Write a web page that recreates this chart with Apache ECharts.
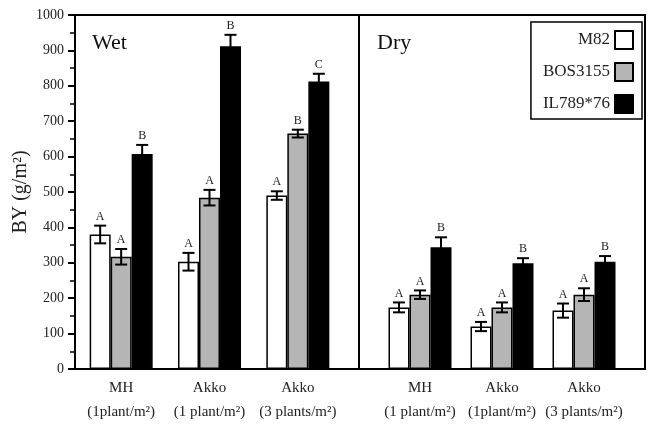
<!DOCTYPE html>
<html>
<head>
<meta charset="utf-8">
<script src="https://cdn.jsdelivr.net/npm/echarts@6/dist/echarts.min.js"></script>
<style>
  html, body { margin: 0; padding: 0; background: #fff; }
  #chart { width: 654px; height: 428px; }
</style>
</head>
<body>
<div id="chart"></div>
<script>
// categories
const wetGroups = ['MH\n(1plant/m²)', 'Akko\n(1 plant/m²)', 'Akko\n(3 plants/m²)'];
const dryGroups = ['MH\n(1 plant/m²)', 'Akko\n(1plant/m²)', 'Akko\n(3 plants/m²)'];
const seriesNames = ['M82', 'BOS3155', 'IL789*76'];
const yTicks = [0, 100, 200, 300, 400, 500, 600, 700, 800, 900, 1000];

// wet
const wetM82 = [380, 303, 490];
const wetBOS = [317, 484, 665];
const wetIL = [607, 912, 812];
const wetM82Err = [25, 25, 12];
const wetBOSErr = [22, 22, 11];
const wetILErr = [26, 32, 22];
const wetM82Let = ['A', 'A', 'A'];
const wetBOSLet = ['A', 'A', 'B'];
const wetILLet = ['B', 'B', 'C'];

// dry
const dryM82 = [174, 120, 165];
const dryBOS = [210, 174, 210];
const dryIL = [344, 299, 303];
const dryM82Err = [14, 13, 20];
const dryBOSErr = [12, 14, 18];
const dryILErr = [28, 14, 16];
const dryM82Let = ['A', 'A', 'A'];
const dryBOSLet = ['A', 'A', 'A'];
const dryILLet = ['B', 'B', 'B'];

const colors = ['#ffffff', '#b5b5b5', '#000000'];
const barW = 21;
const serif = '"Liberation Serif", "DejaVu Serif", serif';

let myChart = echarts.init(document.getElementById('chart'));

function bars(vals, errs, lets, xi) {
  const out = [];
  vals.forEach(function (v, k) {
    out.push({
      name: seriesNames[k],
      type: 'bar',
      xAxisIndex: xi,
      yAxisIndex: xi,
      barWidth: barW,
      barGap: '0%',
      itemStyle: {color: colors[k], borderColor: '#000', borderWidth: 1.5},
      data: v,
      z: 2
    });
  });
  // error bars + letters
  const rows = [];
  const letters = [];
  vals.forEach(function (v, k) {
    v.forEach(function (m, i) {
      rows.push([i, m, errs[k][i], k]);
      letters.push(lets[k][i]);
    });
  });
  out.push({
    type: 'custom',
    xAxisIndex: xi,
    yAxisIndex: xi,
    z: 5,
    silent: true,
    renderItem: function (params, api) {
      const k = api.value(3);
      const c = api.coord([api.value(0), api.value(1)]);
      const x = c[0] + (k - 1) * barW;
      const top = api.coord([api.value(0), api.value(1) + api.value(2)])[1];
      const bot = api.coord([api.value(0), api.value(1) - api.value(2)])[1];
      const st = {stroke: '#000', lineWidth: 2};
      return {
        type: 'group',
        children: [
          {type: 'line', shape: {x1: x, y1: top, x2: x, y2: bot}, style: st},
          {type: 'line', shape: {x1: x - 6, y1: top, x2: x + 6, y2: top}, style: st},
          {type: 'line', shape: {x1: x - 6, y1: bot, x2: x + 6, y2: bot}, style: st},
          {type: 'text', x: x, y: top - 3, style: {
            text: letters[params.dataIndex], fill: '#222', font: '12px ' + serif,
            align: 'center', verticalAlign: 'bottom'}}
        ]
      };
    },
    data: rows
  });
  return out;
}

const hiddenX = {type: 'category', show: false, data: ['a']};
const hiddenY = {type: 'value', show: false, min: 0, max: 1000};
const labelX = function (g, gi) {
  return {
    type: 'category', gridIndex: gi, data: g,
    axisLine: {show: false}, axisTick: {show: false},
    axisLabel: {interval: 0, color: '#222', fontFamily: serif, fontSize: 15, margin: 7, lineHeight: 24}
  };
};

option = {
  backgroundColor: '#fff',
  animation: false,
  grid: [
    {left: 75, top: 15, width: 284, height: 354, show: true, borderColor: '#000', borderWidth: 2, backgroundColor: 'transparent'},
    {left: 359, top: 15, width: 286, height: 354, show: true, borderColor: '#000', borderWidth: 2, backgroundColor: 'transparent'},
    {left: 77, top: 15, width: 265, height: 354},
    {left: 379, top: 15, width: 246, height: 354}
  ],
  xAxis: [
    Object.assign({gridIndex: 0}, hiddenX),
    Object.assign({gridIndex: 1}, hiddenX),
    labelX(wetGroups, 2),
    labelX(dryGroups, 3)
  ],
  yAxis: [
    {
      type: 'value', gridIndex: 0, min: 0, max: 1000, interval: 100,
      name: 'BY (g/m²)', nameLocation: 'middle', nameGap: 44,
      nameTextStyle: {fontFamily: serif, fontSize: 20, color: '#222'},
      axisLine: {show: true, lineStyle: {color: '#000', width: 2}},
      axisTick: {show: true, length: 7, lineStyle: {color: '#000', width: 2}},
      minorTick: {show: true, splitNumber: 2, length: 5, lineStyle: {color: '#000', width: 1.5}},
      splitLine: {show: false},
      axisLabel: {
        color: '#222', fontFamily: serif, fontSize: 14, margin: 11,
        formatter: function (v) { return yTicks.indexOf(v) >= 0 ? String(v) : ''; }
      }
    },
    Object.assign({gridIndex: 1}, hiddenY),
    Object.assign({gridIndex: 2}, hiddenY),
    Object.assign({gridIndex: 3}, hiddenY)
  ],
  legend: {
    data: seriesNames,
    orient: 'vertical',
    right: 12,
    top: 22,
    align: 'right',
    icon: 'rect',
    itemWidth: 18,
    itemHeight: 18,
    itemGap: 12,
    padding: [8, 8, 5, 12],
    borderColor: '#000',
    borderWidth: 1.5,
    backgroundColor: '#fff',
    textStyle: {fontFamily: serif, fontSize: 17, color: '#222'}
  },
  graphic: [
    {type: 'text', left: 92, top: 32, style: {text: 'Wet', font: '22px ' + serif, fill: '#111'}},
    {type: 'text', left: 377, top: 32, style: {text: 'Dry', font: '22px ' + serif, fill: '#111'}}
  ],
  series: [].concat(
    bars([wetM82, wetBOS, wetIL], [wetM82Err, wetBOSErr, wetILErr], [wetM82Let, wetBOSLet, wetILLet], 2),
    bars([dryM82, dryBOS, dryIL], [dryM82Err, dryBOSErr, dryILErr], [dryM82Let, dryBOSLet, dryILLet], 3)
  )
};

myChart.setOption(option);
</script>
</body>
</html>
